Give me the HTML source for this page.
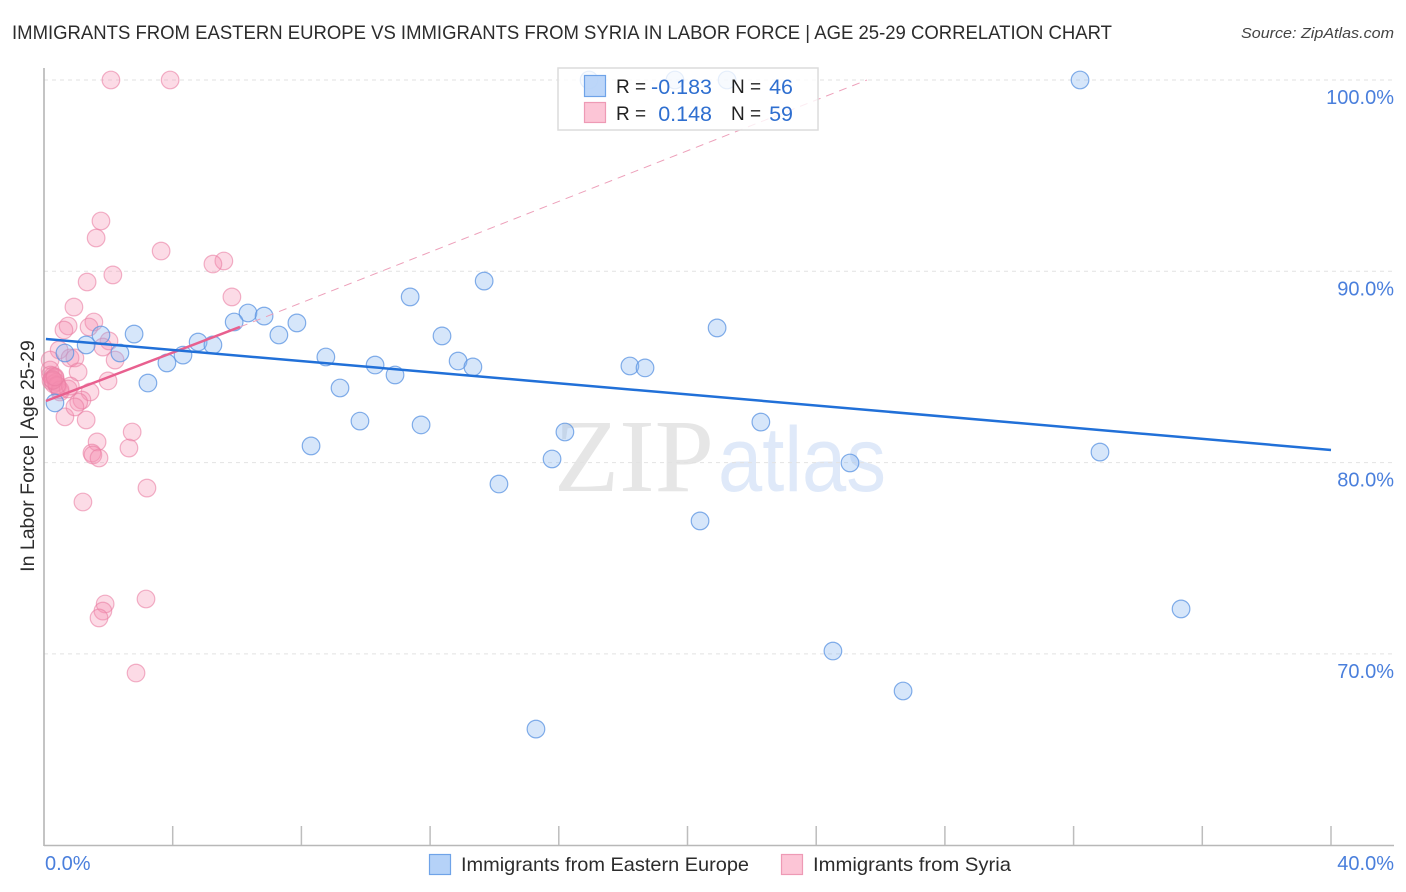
<!DOCTYPE html>
<html lang="en">
<head>
<meta charset="utf-8">
<title>Immigrants from Eastern Europe vs Immigrants from Syria correlation chart</title>
<style>
html,body{margin:0;padding:0;background:#fff;width:1406px;height:892px;overflow:hidden}
svg{display:block}
text{font-family:"Liberation Sans",sans-serif}
</style>
</head>
<body>
<svg id="chart" xmlns="http://www.w3.org/2000/svg" width="1406" height="892" viewBox="0 0 1406 892">
  <rect width="1406" height="892" fill="#fff"/>
  <text x="12" y="39" font-size="19.5" fill="#2c2c2c" textLength="1100" lengthAdjust="spacingAndGlyphs">IMMIGRANTS FROM EASTERN EUROPE VS IMMIGRANTS FROM SYRIA IN LABOR FORCE | AGE 25-29 CORRELATION CHART</text>
  <text x="1394" y="38" font-size="15" font-style="italic" fill="#444" text-anchor="end" textLength="153" lengthAdjust="spacingAndGlyphs">Source: ZipAtlas.com</text>
  <g id="watermark">
    <text x="554" y="491" font-size="104" fill="#e6e6e6" textLength="160" lengthAdjust="spacingAndGlyphs" style="font-family:'Liberation Serif',serif">ZIP</text>
    <text x="718" y="491" font-size="92" fill="#dfe9f9" textLength="168" lengthAdjust="spacingAndGlyphs">atlas</text>
  </g>
  <g id="grid"></g>
  <g id="axes"></g>
  <g id="pink-points"></g>
  <g id="blue-points"></g>
  <g id="trends"></g>
  <text transform="translate(34,456) rotate(-90)" font-size="19.5" fill="#2c2c2c" text-anchor="middle">In Labor Force | Age 25-29</text>

  <g>
    <rect x="558" y="68" width="260" height="62" fill="#fff" fill-opacity="0.8" stroke="#dcdcdc" stroke-width="1.5"/>
    <rect x="584.5" y="75.5" width="21" height="21" fill="#b5d2f8" fill-opacity="0.9" stroke="#6fa3e8" stroke-width="1.2"/>
    <rect x="584.5" y="102.5" width="21" height="20" fill="#fcc5d6" stroke="#ee9ab5" stroke-width="1.2"/>
    <text x="616" y="93" font-size="19" fill="#222">R =</text>
    <text x="712" y="94" font-size="21.5" fill="#2f6fd0" text-anchor="end">-0.183</text>
    <text x="731" y="93" font-size="19" fill="#222">N =</text>
    <text x="793" y="94" font-size="21.5" fill="#2f6fd0" text-anchor="end">46</text>
    <text x="616" y="120" font-size="19" fill="#222">R =</text>
    <text x="712" y="121" font-size="21.5" fill="#2f6fd0" text-anchor="end">0.148</text>
    <text x="731" y="120" font-size="19" fill="#222">N =</text>
    <text x="793" y="121" font-size="21.5" fill="#2f6fd0" text-anchor="end">59</text>
  </g>

  <g>
    <rect x="429.5" y="854.5" width="21" height="20" fill="#b5d2f8" stroke="#6fa3e8" stroke-width="1.2"/>
    <text x="461" y="871" font-size="19.5" fill="#2c2c2c" textLength="288" lengthAdjust="spacingAndGlyphs">Immigrants from Eastern Europe</text>
    <rect x="781.5" y="854.5" width="21" height="20" fill="#fcc5d6" stroke="#ee9ab5" stroke-width="1.2"/>
    <text x="813" y="871" font-size="19.5" fill="#2c2c2c" textLength="198" lengthAdjust="spacingAndGlyphs">Immigrants from Syria</text>
  </g>
</svg>
<script>
const yTickValues = [100, 90, 80, 70];
const yTickLabels = ["100.0%", "90.0%", "80.0%", "70.0%"];
const xTickValues = [0, 4, 8, 12, 16, 20, 24, 28, 32, 36, 40];
const xEndValues = [0, 40];
const xEndLabels = ["0.0%", "40.0%"];

const blueX = [16.94,19.61,21.23,32.20,13.68,11.38,6.34,6.84,5.91,7.86,2.80,1.77,7.30,12.37,20.92,1.31,4.79,5.25,0.65,2.36,4.32,8.76,3.82,10.29,12.87,13.33,10.91,18.21,18.68,3.23,9.20,9.82,11.72,16.19,22.28,8.30,15.79,25.05,32.82,14.14,20.39,35.34,24.52,26.70,15.29,0.34];
const blueY = [100,100,100,100,89.49,88.66,87.82,87.66,87.35,87.30,86.72,86.67,86.67,86.62,87.04,86.15,86.30,86.15,85.73,85.73,85.62,85.52,85.21,85.10,85.31,85.00,84.58,85.05,84.95,84.16,83.90,82.17,81.97,81.60,82.12,80.87,80.19,79.98,80.55,78.88,76.95,72.35,70.15,68.06,66.07,83.12];

const pinkX = [2.08,3.92,1.77,1.62,3.64,5.59,5.25,2.14,1.34,0.93,5.84,1.55,0.75,0.62,1.40,2.02,1.83,0.47,0.81,0.96,2.21,0.19,1.06,0.19,1.99,0.20,0.28,0.34,0.22,0.30,0.38,0.26,0.42,0.50,0.75,0.50,0.82,1.43,1.18,1.08,0.65,1.31,1.65,2.74,2.64,1.49,1.52,1.71,3.20,1.21,3.17,1.90,1.83,1.71,2.86,0.96,0.40,0.28,0.34];
const pinkY = [100,100,92.63,91.74,91.06,90.54,90.38,89.81,89.44,88.13,88.66,87.35,87.14,86.93,87.09,86.36,86.04,85.89,85.47,85.47,85.36,85.36,84.74,84.84,84.27,84.58,84.53,84.42,84.27,84.11,84.20,84.36,84.00,83.69,83.85,83.80,84.00,83.69,83.27,83.16,82.39,82.23,81.08,81.60,80.76,80.50,80.40,80.24,78.67,77.94,72.87,72.61,72.24,71.88,69.00,82.91,84.05,84.30,84.48];

const blueTrendX = [0.06, 40];
const blueTrendY = [86.46, 80.66];
const pinkTrendX = [0.06, 6.09];
const pinkTrendY = [83.22, 87.09];
const pinkDashX = [6.09, 25.58];
const pinkDashY = [87.09, 100];

const NS = 'http://www.w3.org/2000/svg';
function sx(v){ return 44 + v * 32.175; }
function sy(v){ return 80 + (100 - v) * 19.13; }
function make(tag, attrs, parent){
  const el = document.createElementNS(NS, tag);
  for (const k in attrs) el.setAttribute(k, attrs[k]);
  parent.appendChild(el);
  return el;
}

const grid = document.getElementById('grid');
const axes = document.getElementById('axes');

yTickValues.forEach(function(v, i){
  const line = make('line', {x1: 44, x2: 1394, y1: sy(v), y2: sy(v), stroke: '#e2e2e2', 'stroke-width': 1, 'stroke-dasharray': '4 4'}, grid);
  
  
  const label = make('text', {x: 1394, y: sy(v) + 24, 'font-size': 20, fill: '#4a7fdc', 'text-anchor': 'end'}, axes);
  label.textContent = yTickLabels[i];
  
  
});

const yAxis = make('line', {x1: 44, x2: 44, y1: 68, y2: 846, stroke: '#b0b0b0', 'stroke-width': 1.5}, axes);


const xAxis = make('line', {x1: 44, x2: 1394, y1: 845.5, y2: 845.5, stroke: '#b8b8b8', 'stroke-width': 1.5}, axes);



xTickValues.forEach(function(v){
  const tick = make('line', {x1: sx(v), x2: sx(v), y1: 826, y2: 845, stroke: '#bdbdbd', 'stroke-width': 1.5}, axes);
  
  
});
xEndValues.forEach(function(v, i){
  const anchor = i === 0 ? 'start' : 'end';
  const px = i === 0 ? sx(v) + 1 : 1394;
  const label = make('text', {x: px, y: 870, 'font-size': 20, fill: '#4a7fdc', 'text-anchor': anchor}, axes);
  label.textContent = xEndLabels[i];
  
  
});

const pinkGroup = document.getElementById('pink-points');
pinkX.forEach(function(x, i){
  const c = make('circle', {cx: sx(x), cy: sy(pinkY[i]), r: 8.8, fill: '#f58fb0', 'fill-opacity': 0.32, stroke: '#ea7fa3', 'stroke-opacity': 0.6, 'stroke-width': 1.2}, pinkGroup);
  
  
});
const blueGroup = document.getElementById('blue-points');
blueX.forEach(function(x, i){
  const c = make('circle', {cx: sx(x), cy: sy(blueY[i]), r: 8.8, fill: '#8ab6f2', 'fill-opacity': 0.35, stroke: '#5a93e2', 'stroke-opacity': 0.75, 'stroke-width': 1.2}, blueGroup);
  
  
});

const trends = document.getElementById('trends');
const pinkDash = make('line', {x1: sx(pinkDashX[0]), y1: sy(pinkDashY[0]), x2: sx(pinkDashX[1]), y2: sy(pinkDashY[1]), stroke: '#eda0ba', 'stroke-width': 1, 'stroke-dasharray': '8 6'}, trends);


const pinkTrend = make('line', {x1: sx(pinkTrendX[0]), y1: sy(pinkTrendY[0]), x2: sx(pinkTrendX[1]), y2: sy(pinkTrendY[1]), stroke: '#e8608f', 'stroke-width': 2.5}, trends);


const blueTrend = make('line', {x1: sx(blueTrendX[0]), y1: sy(blueTrendY[0]), x2: sx(blueTrendX[1]), y2: sy(blueTrendY[1]), stroke: '#2170d8', 'stroke-width': 2.5}, trends);


</script>
</body>
</html>
